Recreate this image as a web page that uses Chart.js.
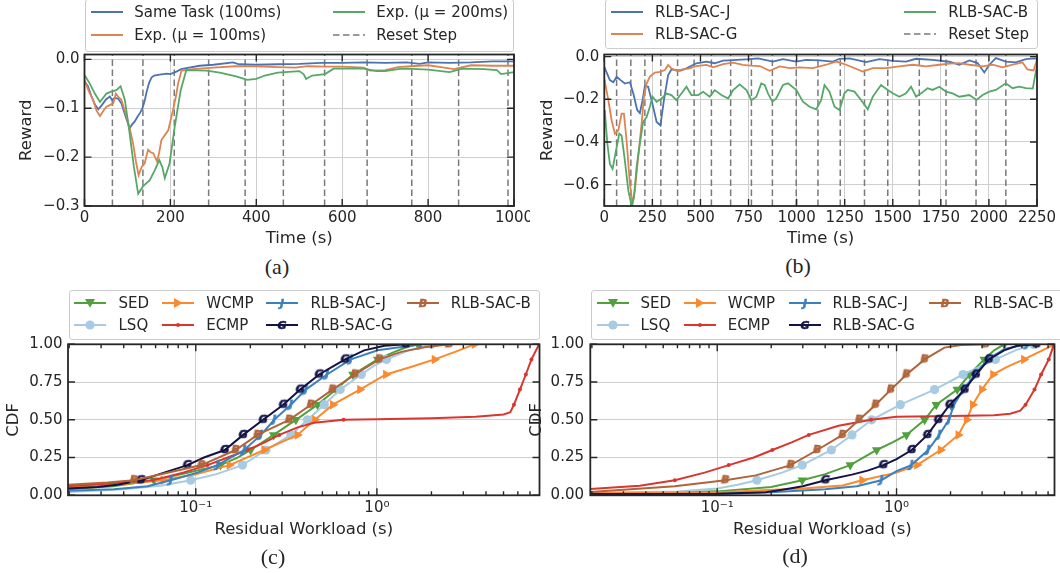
<!DOCTYPE html>
<html>
<head>
<meta charset="utf-8">
<script src="https://cdn.jsdelivr.net/npm/chart.js@4/dist/chart.umd.min.js"></script>
<style>
  body { margin: 0; width: 1060px; height: 573px; position: relative; overflow: hidden; background: #fff;
         font-family: "DejaVu Sans", sans-serif; color: #262626; }
  canvas { position: absolute; }
  .box { position: absolute; border: 1px solid #cccccc; border-radius: 3px; background: rgba(255,255,255,0.8); box-sizing: border-box; }
  .sym { position: absolute; }
  .lab { position: absolute; font-size: 15px; line-height: 18px; white-space: nowrap; }
  .cap { position: absolute; font-family: "Liberation Serif", serif; font-size: 22px; transform: translate(-50%, -50%); }
</style>
</head>
<body>
<canvas id="ca" width="530" height="208" style="left:0px;top:44px"></canvas>
<canvas id="cb" width="530" height="208" style="left:530px;top:44px"></canvas>
<canvas id="cc" width="560" height="210" style="left:0px;top:335px"></canvas>
<canvas id="cd" width="540" height="210" style="left:520px;top:335px"></canvas>
<div class="cap" style="left:277px;top:267px">(a)</div>
<div class="cap" style="left:798px;top:266px">(b)</div>
<div class="cap" style="left:273px;top:557px">(c)</div>
<div class="cap" style="left:795px;top:556px">(d)</div>
<script>
// ---- (a) reward vs time, single trace per setting ----
const aXTicks = [0, 200, 400, 600, 800, 1000];
const aYTicks = [-0.3, -0.2, -0.1, 0];
const aResets = [65, 136, 209, 289, 374, 463, 559, 658, 762, 871, 986];
const aSameTask = [[0,-0.045],[8,-0.055],[16,-0.075],[24,-0.092],[32,-0.102],[40,-0.094],[50,-0.082],[59,-0.076],[64,-0.083],[70,-0.079],[78,-0.08],[86,-0.09],[95,-0.115],[105,-0.141],[111,-0.133],[117,-0.127],[123,-0.118],[129,-0.11],[135,-0.1],[140,-0.085],[145,-0.065],[150,-0.049],[156,-0.037],[162,-0.033],[175,-0.031],[191,-0.029],[200,-0.03],[214,-0.025],[225,-0.02],[237,-0.018],[268,-0.013],[300,-0.011],[346,-0.006],[360,-0.01],[400,-0.011],[450,-0.01],[500,-0.009],[550,-0.007],[600,-0.007],[650,-0.006],[700,-0.007],[750,-0.006],[780,-0.009],[800,-0.006],[850,-0.007],[900,-0.006],[950,-0.004],[1000,-0.004]];
const aExp100 = [[0,-0.042],[10,-0.065],[20,-0.083],[28,-0.105],[36,-0.116],[44,-0.105],[51,-0.097],[60,-0.093],[67,-0.09],[73,-0.07],[80,-0.078],[86,-0.083],[98,-0.117],[105,-0.14],[113,-0.172],[120,-0.21],[126,-0.237],[133,-0.22],[140,-0.213],[148,-0.185],[154,-0.19],[160,-0.192],[169,-0.209],[174,-0.19],[179,-0.165],[187,-0.155],[195,-0.145],[206,-0.104],[213,-0.075],[218,-0.049],[226,-0.023],[253,-0.02],[300,-0.017],[350,-0.014],[400,-0.014],[450,-0.016],[490,-0.017],[520,-0.014],[560,-0.015],[600,-0.015],[650,-0.017],[665,-0.023],[700,-0.022],[730,-0.016],[760,-0.014],[800,-0.012],[830,-0.016],[860,-0.02],[900,-0.012],[950,-0.013],[1000,-0.013]];
const aExp200 = [[0,-0.032],[12,-0.049],[24,-0.07],[36,-0.087],[44,-0.078],[51,-0.07],[62,-0.066],[74,-0.063],[84,-0.055],[94,-0.083],[105,-0.151],[115,-0.22],[125,-0.275],[136,-0.26],[152,-0.247],[164,-0.226],[174,-0.206],[181,-0.22],[187,-0.243],[198,-0.213],[210,-0.138],[224,-0.063],[237,-0.022],[284,-0.023],[315,-0.027],[353,-0.035],[379,-0.042],[400,-0.04],[420,-0.033],[450,-0.027],[500,-0.024],[510,-0.03],[516,-0.04],[530,-0.033],[560,-0.03],[580,-0.019],[650,-0.019],[680,-0.024],[700,-0.024],[730,-0.02],[750,-0.019],[800,-0.021],[850,-0.026],[880,-0.019],[930,-0.02],[960,-0.022],[970,-0.03],[1000,-0.026]];

// ---- (b) reward vs time, RLB-SAC variants ----
const bXTicks = [0, 250, 500, 750, 1000, 1250, 1500, 1750, 2000, 2250];
const bYTicks = [-0.6, -0.4, -0.2, 0];
const bResets = [64, 138, 211, 294, 381, 467, 557, 657, 765, 874, 998, 1111, 1227, 1353, 1474, 1638, 1777, 1933, 2088];
const bSacJ = [[0,-0.05],[3,-0.055],[29,-0.11],[47,-0.12],[64,-0.094],[85,-0.11],[107,-0.126],[133,-0.12],[151,-0.173],[171,-0.25],[185,-0.264],[199,-0.204],[211,-0.138],[228,-0.141],[246,-0.204],[272,-0.306],[292,-0.322],[310,-0.204],[332,-0.086],[349,-0.06],[393,-0.066],[427,-0.055],[479,-0.031],[531,-0.023],[574,-0.031],[618,-0.019],[670,-0.016],[756,-0.012],[799,-0.008],[877,-0.023],[929,-0.012],[998,-0.023],[1050,-0.015],[1119,-0.018],[1188,-0.023],[1223,-0.01],[1275,-0.008],[1361,-0.026],[1431,-0.012],[1500,-0.02],[1569,-0.023],[1621,-0.01],[1707,-0.015],[1794,-0.024],[1846,-0.038],[1898,-0.018],[1941,-0.03],[1976,-0.074],[2002,-0.038],[2036,-0.007],[2088,-0.023],[2140,-0.027],[2192,-0.012],[2235,-0.008],[2250,-0.01]];
const bSacG = [[0,-0.108],[3,-0.118],[21,-0.204],[38,-0.298],[55,-0.361],[73,-0.345],[90,-0.267],[102,-0.267],[116,-0.393],[133,-0.597],[147,-0.69],[159,-0.628],[176,-0.471],[194,-0.314],[206,-0.188],[220,-0.126],[237,-0.094],[263,-0.075],[289,-0.071],[315,-0.063],[332,-0.039],[349,-0.055],[375,-0.066],[410,-0.06],[445,-0.055],[479,-0.044],[531,-0.039],[566,-0.05],[618,-0.035],[670,-0.028],[721,-0.039],[760,-0.042],[808,-0.044],[860,-0.066],[912,-0.046],[964,-0.054],[1015,-0.05],[1085,-0.054],[1154,-0.038],[1206,-0.023],[1258,-0.038],[1344,-0.07],[1396,-0.054],[1465,-0.054],[1534,-0.046],[1604,-0.038],[1673,-0.046],[1742,-0.038],[1794,-0.033],[1846,-0.03],[1898,-0.038],[1967,-0.046],[2019,-0.038],[2071,-0.05],[2123,-0.038],[2175,-0.027],[2200,-0.06],[2232,-0.065],[2250,-0.015]];
const bSacB = [[0,-0.25],[3,-0.26],[16,-0.408],[29,-0.503],[43,-0.526],[61,-0.44],[78,-0.361],[90,-0.37],[107,-0.487],[125,-0.628],[142,-0.699],[154,-0.66],[168,-0.518],[185,-0.408],[202,-0.306],[220,-0.283],[237,-0.235],[251,-0.188],[272,-0.212],[298,-0.196],[324,-0.173],[349,-0.18],[375,-0.204],[401,-0.173],[427,-0.141],[453,-0.18],[488,-0.18],[514,-0.165],[548,-0.188],[574,-0.157],[609,-0.18],[644,-0.196],[670,-0.157],[704,-0.13],[739,-0.157],[765,-0.204],[791,-0.188],[816,-0.126],[834,-0.133],[851,-0.172],[874,-0.211],[894,-0.196],[929,-0.133],[955,-0.125],[998,-0.156],[1033,-0.211],[1067,-0.235],[1102,-0.247],[1128,-0.203],[1145,-0.133],[1171,-0.164],[1197,-0.235],[1223,-0.25],[1249,-0.172],[1266,-0.156],[1301,-0.164],[1335,-0.203],[1370,-0.247],[1396,-0.188],[1439,-0.133],[1474,-0.156],[1500,-0.172],[1534,-0.188],[1569,-0.172],[1595,-0.141],[1621,-0.188],[1647,-0.172],[1681,-0.148],[1707,-0.156],[1742,-0.141],[1777,-0.164],[1811,-0.172],[1846,-0.188],[1898,-0.18],[1936,-0.203],[1967,-0.18],[2002,-0.164],[2036,-0.156],[2088,-0.125],[2123,-0.148],[2157,-0.141],[2192,-0.148],[2228,-0.15],[2250,-0.04]];

// ---- (c), (d) CDF of residual workload: [seconds, cdf] ----
const cdfTicks = [0.02,0.03,0.04,0.05,0.06,0.07,0.08,0.09,0.1,0.2,0.3,0.4,0.5,0.6,0.7,0.8,0.9,1,2,3,4,5,6,7];
const cdfYTicks = [0, 0.25, 0.5, 0.75, 1];
const markLevels = [0.1, 0.2, 0.3, 0.4, 0.5, 0.6, 0.7, 0.8, 0.9, 1.0];
const cSED = [[0.0197,0.04],[0.035,0.06],[0.0588,0.1],[0.09,0.15],[0.137,0.2],[0.17,0.25],[0.201,0.3],[0.269,0.4],[0.357,0.5],[0.47,0.6],[0.594,0.7],[0.737,0.8],[1.01,0.9],[1.25,0.95],[1.45,0.98],[1.68,1.0]];
const cLSQ = [[0.0197,0.022],[0.04,0.04],[0.065,0.065],[0.0938,0.1],[0.13,0.14],[0.181,0.2],[0.244,0.3],[0.335,0.4],[0.414,0.5],[0.512,0.6],[0.627,0.7],[0.82,0.8],[0.97,0.86],[1.13,0.9],[1.5,0.96],[2.0,1.0]];
const cWCMP = [[0.0197,0.05],[0.04,0.075],[0.0663,0.1],[0.1,0.14],[0.1535,0.2],[0.2385,0.3],[0.364,0.4],[0.4545,0.5],[0.571,0.6],[0.806,0.7],[1.121,0.8],[1.54,0.85],[2.08,0.9],[2.7,0.95],[3.46,1.0]];
const cECMP = [[0.0197,0.06],[0.035,0.08],[0.058,0.1],[0.085,0.15],[0.116,0.2],[0.15,0.25],[0.193,0.3],[0.24,0.35],[0.289,0.4],[0.365,0.45],[0.45,0.48],[0.654,0.5],[1.0,0.503],[2.0,0.51],[3.5,0.52],[5.0,0.535],[5.45,0.55],[5.71,0.6],[6.16,0.7],[6.64,0.8],[7.13,0.9],[7.86,1.0]];
const cSacJ = [[0.0197,0.03],[0.0354,0.04],[0.0541,0.06],[0.0728,0.1],[0.102,0.15],[0.132,0.2],[0.156,0.25],[0.185,0.3],[0.229,0.4],[0.271,0.5],[0.335,0.6],[0.405,0.7],[0.53,0.8],[0.718,0.9],[1.01,0.96],[1.75,1.0]];
const cSacG = [[0.0197,0.045],[0.0286,0.055],[0.0369,0.07],[0.0497,0.1],[0.0668,0.15],[0.0899,0.2],[0.111,0.25],[0.1446,0.3],[0.1826,0.4],[0.2355,0.5],[0.304,0.6],[0.377,0.7],[0.48,0.8],[0.566,0.85],[0.668,0.9],[0.85,0.96],[1.1,0.99],[1.446,1.0]];
const cSacB = [[0.0197,0.07],[0.0325,0.085],[0.0456,0.1],[0.07,0.15],[0.1075,0.2],[0.166,0.3],[0.219,0.4],[0.328,0.5],[0.432,0.6],[0.569,0.7],[0.756,0.8],[1.03,0.9],[1.36,0.95],[1.83,0.98],[2.51,1.0]];
const dSED = [[0.0196,0.01],[0.1,0.026],[0.2,0.055],[0.298,0.1],[0.4,0.14],[0.552,0.2],[0.775,0.3],[0.95,0.35],[1.136,0.4],[1.435,0.5],[1.665,0.6],[2.18,0.7],[2.55,0.8],[3.08,0.9],[3.5,0.96],[3.98,1.0]];
const dLSQ = [[0.0196,0.015],[0.06,0.025],[0.1,0.045],[0.13,0.07],[0.1665,0.1],[0.23,0.15],[0.298,0.2],[0.433,0.3],[0.564,0.4],[0.727,0.5],[1.05,0.6],[1.63,0.7],[2.35,0.8],[3.56,0.9],[4.6,0.96],[5.8,1.0]];
const dWCMP = [[0.0196,0.015],[0.1,0.02],[0.3,0.045],[0.5,0.065],[0.643,0.1],[1.0,0.15],[1.3,0.2],[1.76,0.3],[2.21,0.4],[2.46,0.5],[2.66,0.6],[2.99,0.7],[3.45,0.8],[4.13,0.85],[5.13,0.9],[6.5,0.96],[7.6,1.0]];
const dECMP = [[0.0196,0.042],[0.037,0.064],[0.058,0.1],[0.085,0.15],[0.116,0.2],[0.16,0.25],[0.203,0.3],[0.26,0.35],[0.324,0.4],[0.475,0.46],[0.721,0.5],[1.0,0.52],[2.0,0.525],[3.5,0.53],[4.3,0.54],[4.9,0.56],[5.24,0.6],[5.88,0.7],[6.4,0.8],[7.06,0.9],[7.55,1.0]];
const dSacJ = [[0.0196,0.003],[0.1,0.008],[0.2,0.02],[0.4,0.04],[0.6,0.06],[0.822,0.1],[1.0,0.16],[1.21,0.2],[1.5,0.3],[1.73,0.4],[1.96,0.5],[2.09,0.6],[2.36,0.7],[2.74,0.8],[3.22,0.9],[4.0,0.97],[5.36,1.0]];
const dSacG = [[0.0196,0.008],[0.1,0.01],[0.187,0.02],[0.24,0.04],[0.3,0.06],[0.401,0.1],[0.564,0.137],[0.697,0.165],[0.845,0.2],[1.0,0.24],[1.215,0.3],[1.487,0.4],[1.712,0.5],[1.98,0.6],[2.4,0.7],[2.775,0.8],[3.27,0.9],[3.98,0.96],[4.7,0.99],[6.03,1.0]];
const dSacB = [[0.0196,0.022],[0.058,0.06],[0.111,0.1],[0.164,0.132],[0.257,0.2],[0.361,0.3],[0.5,0.4],[0.619,0.5],[0.765,0.6],[0.93,0.7],[1.136,0.8],[1.435,0.9],[1.85,0.978],[2.29,0.995],[3.15,1.0]];

const INK = '#262626', GRID = '#cfcfcf';
const BLUE = '#4c72b0', ORANGE = '#dd8452', GREEN = '#55a868', RESET = '#7a7a7a';
const C_SED = '#50a03c', C_LSQ = '#a6cbe3', C_WCMP = '#fb8a2e', C_ECMP = '#d8372f',
      C_J = '#3d80c0', C_G = '#141346', C_B = '#b0643a';

Chart.defaults.font.family = '"DejaVu Sans", sans-serif';
Chart.defaults.color = INK;

const pts = arr => arr.map(([x, y]) => ({ x, y }));
const isPow10 = v => Math.abs(Math.log10(v) - Math.round(Math.log10(v))) < 1e-9;
const isMark = y => markLevels.some(m => Math.abs(m - y) < 1e-9);
const minusFmt = d => v => (v === 0 ? (0).toFixed(d) : v.toFixed(d).replace('-', '\u2212'));
const logFmt = v => (v === 0.1 ? '10\u207b\u00b9' : v === 1 ? '10\u2070' : '');

// frame + inward ticks on all four sides
const frame = {
  id: 'frame',
  afterDatasetsDraw(chart) {
    const { ctx, chartArea: a, scales: { x, y } } = chart;
    ctx.save();
    ctx.strokeStyle = INK;
    ctx.lineWidth = 1.4;
    ctx.beginPath();
    for (const t of x.ticks) {
      const p = x.getPixelForValue(t.value), len = t.major ? 7 : 4;
      ctx.moveTo(p, a.bottom); ctx.lineTo(p, a.bottom - len);
      ctx.moveTo(p, a.top); ctx.lineTo(p, a.top + len);
    }
    for (const t of y.ticks) {
      const p = y.getPixelForValue(t.value), len = t.major ? 7 : 4;
      ctx.moveTo(a.left, p); ctx.lineTo(a.left + len, p);
      ctx.moveTo(a.right, p); ctx.lineTo(a.right - len, p);
    }
    ctx.stroke();
    ctx.lineWidth = 1.8;
    ctx.strokeRect(a.left, a.top, a.right - a.left, a.bottom - a.top);
    ctx.restore();
  }
};

function axis(o) {
  const horiz = o.pos === 'x';
  return {
    type: o.type || 'linear', min: o.min, max: o.max,
    afterBuildTicks: s => { s.ticks = o.ticks.map(v => ({ value: v, major: o.type === 'logarithmic' ? isPow10(v) : true })); },
    afterFit: s => {
      // fixed axis sizes; the layout padding alone sets the plot box
      if (horiz) { s.height = o.size; s.paddingLeft = 0; s.paddingRight = 0; }
      else { s.width = o.size; s.paddingTop = 0; s.paddingBottom = 0; }
    },
    grid: { drawTicks: false, lineWidth: 1, color: c => (c.tick && c.tick.major) ? GRID : 'rgba(0,0,0,0)' },
    border: { display: false },
    ticks: { autoSkip: false, maxRotation: 0, padding: o.pad, font: { size: 15 }, color: INK, callback: o.fmt },
    title: { display: true, text: o.title, font: { size: 16.5 }, color: INK,
             padding: horiz ? { top: 0, bottom: o.tpad } : { top: o.tpad, bottom: 0 } }
  };
}

function make(id, datasets, padding, x, y) {
  return new Chart(document.getElementById(id), {
    type: 'line',
    data: { datasets },
    options: {
      responsive: false, animation: false, events: [],
      layout: { padding },
      plugins: { legend: { display: false }, tooltip: { enabled: false } },
      scales: { x: axis(Object.assign({ pos: 'x' }, x)), y: axis(Object.assign({ pos: 'y' }, y)) }
    },
    plugins: [frame]
  });
}

function trace(label, arr, color, order) {
  return { label, data: pts(arr), borderColor: color, backgroundColor: color, borderWidth: 1.8,
           pointRadius: 0, tension: 0, fill: false, order };
}
function resets(list, lo, hi) {
  const data = [];
  for (const t of list) data.push({ x: t, y: lo }, { x: t, y: hi }, { x: t, y: null });
  return { label: 'Reset Step', data, borderColor: RESET, borderWidth: 1.5, borderDash: [6.5, 3.5],
           pointRadius: 0, spanGaps: false, fill: false, order: 10 };
}

function letterMark(ch, color) {
  const c = document.createElement('canvas');
  c.width = 14; c.height = 14;
  const g = c.getContext('2d');
  g.fillStyle = color; g.strokeStyle = color; g.lineWidth = 0.7;
  g.font = 'italic bold 11px "DejaVu Sans"';
  g.textAlign = 'center'; g.textBaseline = 'middle';
  g.fillText(ch, 7, 7.5); g.strokeText(ch, 7, 7.5);
  return c;
}

const cdfStyles = [
  { label: 'SED', color: C_SED, style: 'triangle', rot: 180, r: 5.5, sym: 'down' },
  { label: 'LSQ', color: C_LSQ, style: 'circle', rot: 0, r: 4.6, sym: 'circle' },
  { label: 'WCMP', color: C_WCMP, style: 'triangle', rot: 90, r: 5.5, sym: 'right' },
  { label: 'ECMP', color: C_ECMP, style: 'circle', rot: 0, r: 2, sym: 'dot' },
  { label: 'RLB-SAC-J', color: C_J, style: letterMark('J', C_J), rot: 0, r: 5, sym: 'J' },
  { label: 'RLB-SAC-G', color: C_G, style: letterMark('G', C_G), rot: 0, r: 5, sym: 'G' },
  { label: 'RLB-SAC-B', color: C_B, style: letterMark('B', C_B), rot: 0, r: 5, sym: 'B' }
];
function cdfSets(series) {
  return series.map((arr, i) => {
    const s = cdfStyles[i];
    return { label: s.label, data: pts(arr), borderColor: s.color, backgroundColor: s.color, borderWidth: 2,
             tension: 0, fill: false, order: series.length - i,
             pointStyle: s.style, pointRotation: s.rot, pointBorderWidth: 0, pointBackgroundColor: s.color,
             pointRadius: c => (c.raw && isMark(c.raw.y)) ? s.r : 0 };
  });
}

// (a)
make('ca', [
  trace('Same Task (100ms)', aSameTask, BLUE, 3),
  trace('Exp. (\u03bc = 100ms)', aExp100, ORANGE, 2),
  trace('Exp. (\u03bc = 200ms)', aExp200, GREEN, 1),
  resets(aResets, -0.3, 0.01)
], { left: 0, top: 10.5, right: 16, bottom: 0 },
  { min: 0, max: 1000, ticks: aXTicks, size: 46, pad: 3, tpad: 3.4, title: 'Time (s)', fmt: v => String(v) },
  { min: -0.3, max: 0.01, ticks: aYTicks, size: 84.5, pad: 5, tpad: 17, title: 'Reward', fmt: minusFmt(1) });

// (b)
make('cb', [
  trace('RLB-SAC-J', bSacJ, BLUE, 3),
  trace('RLB-SAC-G', bSacG, ORANGE, 2),
  trace('RLB-SAC-B', bSacB, GREEN, 1),
  resets(bResets, -0.7, 0.01)
], { left: 0, top: 10.5, right: 23, bottom: 0 },
  { min: 0, max: 2250, ticks: bXTicks, size: 46, pad: 3, tpad: 3.4, title: 'Time (s)', fmt: v => String(v) },
  { min: -0.7, max: 0.01, ticks: bYTicks, size: 74.3, pad: 5, tpad: 7.7, title: 'Reward', fmt: minusFmt(1) });

// (c)
make('cc', cdfSets([cSED, cLSQ, cWCMP, cECMP, cSacJ, cSacG, cSacB]),
  { left: 0, top: 9.3, right: 20.5, bottom: 0 },
  { type: 'logarithmic', min: 0.0197, max: 7.9, ticks: cdfTicks, size: 49.7, pad: 3.7, tpad: 5.1, title: 'Residual Workload (s)', fmt: logFmt },
  { min: 0, max: 1, ticks: cdfYTicks, size: 68, pad: 5.4, tpad: 4, title: 'CDF', fmt: minusFmt(2) });

// (d)
make('cd', cdfSets([dSED, dLSQ, dWCMP, dECMP, dSacJ, dSacG, dSacB]),
  { left: 0, top: 9.3, right: 2, bottom: 0 },
  { type: 'logarithmic', min: 0.0196, max: 7.6, ticks: cdfTicks, size: 49.7, pad: 3.7, tpad: 5.1, title: 'Residual Workload (s)', fmt: logFmt },
  { min: 0, max: 1, ticks: cdfYTicks, size: 70.3, pad: 6.3, tpad: 6.9, title: 'CDF', fmt: minusFmt(2) });

// ---- legends (HTML) ----
function symbol(kind, color) {
  let m = '', dash = '';
  if (kind === 'dash') dash = ' stroke-dasharray="6.5 3.5"';
  if (kind === 'down') m = `<polygon points="11,5 21,5 16,13.7" fill="${color}"/>`;
  if (kind === 'right') m = `<polygon points="12,4 12,14 20.7,9" fill="${color}"/>`;
  if (kind === 'circle') m = `<circle cx="16" cy="9" r="4.6" fill="${color}"/>`;
  if (kind === 'dot') m = `<circle cx="16" cy="9" r="2" fill="${color}"/>`;
  if (kind.length === 1) m = `<text x="16" y="13" text-anchor="middle" font-family="DejaVu Sans" font-style="italic" font-weight="bold" font-size="11" fill="${color}" stroke="${color}" stroke-width="0.5">${kind}</text>`;
  const w = kind === 'dash' ? 1.5 : 2;
  return `<svg width="32" height="18"><line x1="0" y1="9" x2="32" y2="9" stroke="${color}" stroke-width="${w}"${dash}/>${m}</svg>`;
}
function legend(box, items) {
  const b = document.createElement('div');
  b.className = 'box';
  Object.assign(b.style, { left: box[0] + 'px', top: box[1] + 'px', width: (box[2] - box[0]) + 'px', height: (box[3] - box[1]) + 'px' });
  document.body.appendChild(b);
  for (const [text, kind, color, lx, tx, cy] of items) {
    const s = document.createElement('div');
    s.className = 'sym';
    s.style.left = lx + 'px'; s.style.top = (cy - 9) + 'px';
    s.innerHTML = symbol(kind, color);
    document.body.appendChild(s);
    const t = document.createElement('div');
    t.className = 'lab';
    t.style.left = tx + 'px'; t.style.top = (cy - 9) + 'px';
    t.textContent = text;
    document.body.appendChild(t);
  }
}
legend([84.5, -1, 514, 52], [
  ['Same Task (100ms)', 'line', BLUE, 90.6, 134.2, 11.7],
  ['Exp. (\u03bc = 100ms)', 'line', ORANGE, 90.6, 134.2, 35],
  ['Exp. (\u03bc = 200ms)', 'line', GREEN, 333, 376.3, 11.7],
  ['Reset Step', 'dash', RESET, 333, 376.3, 35]
]);
legend([604.5, -1, 1037.5, 48.5], [
  ['RLB-SAC-J', 'line', BLUE, 611, 655, 12.3],
  ['RLB-SAC-G', 'line', ORANGE, 611, 655, 34.3],
  ['RLB-SAC-B', 'line', GREEN, 903.6, 948.2, 12.3],
  ['Reset Step', 'dash', RESET, 903.6, 948.2, 34.3]
]);
function cdfLegend(box, lines, texts) {
  const rows = [303, 325], cols = [0, 0, 1, 1, 2, 2, 3];
  legend(box, cdfStyles.map((s, i) => [s.label, s.sym, s.color, lines[cols[i]], texts[cols[i]], rows[i % 2]]));
}
cdfLegend([68.5, 290, 539.8, 340], [74, 162, 266.3, 406.7], [118.5, 206.3, 310.4, 450.8]);
cdfLegend([590.9, 290, 1064, 340], [596.6, 683.8, 788.6, 929], [640.5, 727.8, 832.6, 973.5]);
</script>
</body>
</html>
